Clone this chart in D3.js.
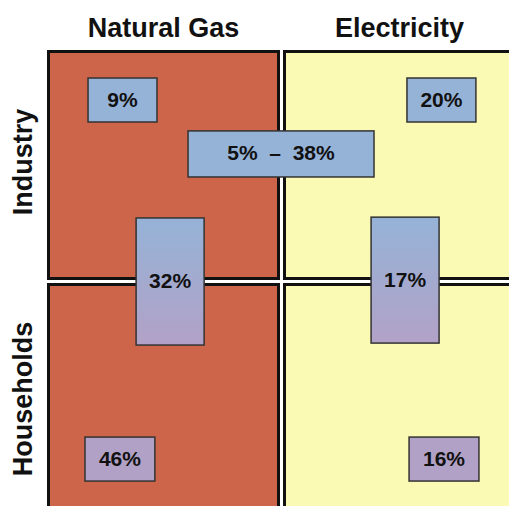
<!DOCTYPE html>
<html>
<head>
<meta charset="utf-8">
<script src="https://cdn.jsdelivr.net/npm/d3@7"></script>
<style>
  html, body { margin: 0; padding: 0; background: #fff; }
  svg { display: block; font-family: "Liberation Sans", Arial, sans-serif; }
</style>
</head>
<body>
<svg id="chart" width="509" height="506"></svg>
<script>
// Energy types (columns) and consumer sectors (rows)
const fuels = ["Natural Gas", "Electricity"];
const sectors = ["Industry", "Households"];

// Shares shown in the boxes, in percent
const shareLabels = ["Industry · Natural Gas", "Industry · Electricity",
                     "Both · Natural Gas", "Both · Electricity",
                     "Households · Natural Gas", "Households · Electricity"];
const shareValues = [9, 20, 32, 17, 46, 16];
// Range spanning both fuels for industry
const rangeValues = [5, 38];

const quadrantFill = { "Natural Gas": "#cc6549", "Electricity": "#fafab4" };
const blue = "#95b3d7", purple = "#b2a1c7";

// Box layout in grid units: x across the two columns [0,2], y down the two rows [0,2]
const boxLayout = [
  { cx: 0.322, cy: 0.216, w: 0.294, h: 0.19,  fill: "blue" },
  { cx: 1.682, cy: 0.216, w: 0.294, h: 0.19,  fill: "blue" },
  { cx: 0.525, cy: 1.000, w: 0.29,  h: 0.549, fill: "grad" },
  { cx: 1.527, cy: 0.994, w: 0.29,  h: 0.544, fill: "grad" },
  { cx: 0.311, cy: 1.767, w: 0.298, h: 0.19,  fill: "purple" },
  { cx: 1.693, cy: 1.767, w: 0.298, h: 0.19,  fill: "purple" }
];
const rangeLayout = { cx: 0.998, cy: 0.449, w: 0.793, h: 0.199 };

const svg = d3.select("#chart");

const x = d3.scaleBand().domain(fuels).range([47, 516]).paddingInner(3 / 236);
const y = d3.scaleBand().domain(sectors).range([50, 513]).paddingInner(3 / 233);
const gx = d3.scaleLinear().domain([0, 2]).range([47, 516]);
const gy = d3.scaleLinear().domain([0, 2]).range([50, 513]);

const defs = svg.append("defs");
const grad = defs.append("linearGradient").attr("id", "bluePurple")
  .attr("x1", 0).attr("y1", 0).attr("x2", 0).attr("y2", 1);
grad.append("stop").attr("offset", "0%").attr("stop-color", blue);
grad.append("stop").attr("offset", "100%").attr("stop-color", purple);

// Quadrants
const sw = 3;
const cells = d3.cross(sectors, fuels).map(([s, f]) => ({ s, f }));
svg.append("g").selectAll("rect").data(cells).join("rect")
  .attr("x", d => x(d.f) + sw / 2)
  .attr("y", d => y(d.s) + sw / 2)
  .attr("width", x.bandwidth() - sw)
  .attr("height", y.bandwidth() - sw)
  .attr("fill", d => quadrantFill[d.f])
  .attr("stroke", "#111")
  .attr("stroke-width", sw);

// Column headers
svg.append("g").selectAll("text").data(fuels).join("text")
  .attr("x", d => x(d) + x.bandwidth() / 2)
  .attr("y", 37)
  .attr("text-anchor", "middle")
  .attr("font-size", 27)
  .attr("font-weight", "bold")
  .attr("fill", "#111")
  .text(d => d);

// Row headers
svg.append("g").selectAll("text").data(sectors).join("text")
  .attr("transform", (d, i) => `translate(32,${y(d) + y.bandwidth() / 2 + (i === 0 ? -3 : 1)}) rotate(-90)`)
  .attr("text-anchor", "middle")
  .attr("font-size", 27)
  .attr("font-weight", "bold")
  .attr("fill", "#111")
  .text(d => d);

// Share boxes
const boxes = shareValues.map((v, i) => ({ label: v + "%", name: shareLabels[i], ...boxLayout[i] }));
boxes.push({ label: `${rangeValues[0]}%  \u2013  ${rangeValues[1]}%`, name: "Industry range", fill: "blue", ...rangeLayout });

const fillOf = f => f === "grad" ? "url(#bluePurple)" : (f === "blue" ? blue : purple);

const bg = svg.append("g").selectAll("g").data(boxes).join("g");
bg.append("rect")
  .attr("x", d => gx(d.cx - d.w / 2))
  .attr("y", d => gy(d.cy - d.h / 2))
  .attr("width", d => gx(d.w) - gx(0))
  .attr("height", d => gy(d.h) - gy(0))
  .attr("fill", d => fillOf(d.fill))
  .attr("stroke", "#333")
  .attr("stroke-width", 1.5);
bg.append("text")
  .attr("x", d => gx(d.cx))
  .attr("y", d => gy(d.cy) + 6.5)
  .attr("text-anchor", "middle")
  .attr("font-size", 21)
  .attr("font-weight", "bold")
  .attr("fill", "#111")
  .style("white-space", "pre")
  .text(d => d.label);
</script>
</body>
</html>
